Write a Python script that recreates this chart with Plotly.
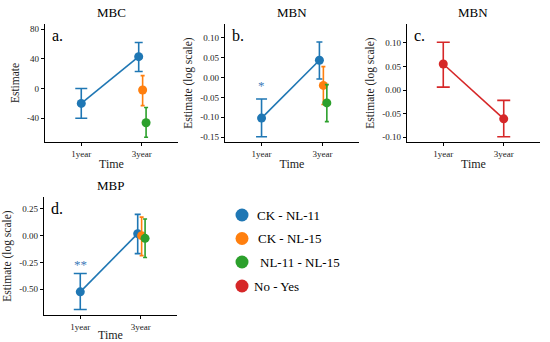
import plotly.graph_objects as go

# ---------------- data ----------------
time_labels = ["1year", "3year"]
contrast_names = ["CK - NL-11", "CK - NL-15", "NL-11 - NL-15", "No - Yes"]
contrast_colors = ["#1f77b4", "#ff7f0e", "#2ca02c", "#d62728"]

# MBC (panel a)
mbc_ck_nl11_est = [-20, 43]
mbc_ck_nl11_lo = [-40, 23]
mbc_ck_nl11_hi = [0, 62]
mbc_ck_nl15_est = [-2]
mbc_ck_nl15_lo = [-23]
mbc_ck_nl15_hi = [17.5]
mbc_nl11_nl15_est = [-46]
mbc_nl11_nl15_lo = [-65.5]
mbc_nl11_nl15_hi = [-25.5]

# MBN (panel b)
mbn_ck_nl11_est = [-0.102, 0.043]
mbn_ck_nl11_lo = [-0.149, -0.004]
mbn_ck_nl11_hi = [-0.054, 0.089]
mbn_ck_nl15_est = [-0.020]
mbn_ck_nl15_lo = [-0.068]
mbn_ck_nl15_hi = [0.027]
mbn_nl11_nl15_est = [-0.064]
mbn_nl11_nl15_lo = [-0.111]
mbn_nl11_nl15_hi = [-0.018]

# MBN (panel c) No - Yes
mbn_noyes_est = [0.055, -0.061]
mbn_noyes_lo = [0.006, -0.099]
mbn_noyes_hi = [0.101, -0.022]

# MBP (panel d)
mbp_ck_nl11_est = [-0.526, 0.019]
mbp_ck_nl11_lo = [-0.691, -0.168]
mbp_ck_nl11_hi = [-0.355, 0.199]
mbp_ck_nl15_est = [0.0]
mbp_ck_nl15_lo = [-0.187]
mbp_ck_nl15_hi = [0.174]
mbp_nl11_nl15_est = [-0.025]
mbp_nl11_nl15_lo = [-0.205]
mbp_nl11_nl15_hi = [0.156]

# significance marks
sig_b = {"time": "1year", "y": -0.021, "text": "*"}
sig_d = {"time": "1year", "y": -0.268, "text": "**"}

# ---------------- style ----------------
FONT = "Liberation Serif"
dodge = {"CK - NL-11": -0.05, "CK - NL-15": 0.015, "NL-11 - NL-15": 0.072, "No - Yes": 0.0}
W, H = 550, 342

fig = go.Figure()


def xpos(times, name):
    out = []
    for t in times:
        i = time_labels.index(t) + 1
        out.append(i + (dodge[name] if t == "3year" else 0.0))
    return out


def add_series(ax, name, times, est, lo, hi, caps):
    col = contrast_colors[contrast_names.index(name)]
    xs = xpos(times, name)
    xa = "x" + ("" if ax == 1 else str(ax))
    ya = "y" + ("" if ax == 1 else str(ax))
    for x, e, l, h, c in zip(xs, est, lo, hi, caps):
        fig.add_trace(go.Scatter(
            x=[x], y=[e], mode="markers", marker=dict(size=1, opacity=0),
            error_y=dict(type="data", symmetric=False, array=[h - e], arrayminus=[e - l],
                         color=col, thickness=1.6, width=c),
            xaxis=xa, yaxis=ya, showlegend=False, hoverinfo="skip"))
    fig.add_trace(go.Scatter(
        x=xs, y=est, mode="lines+markers", name=name,
        line=dict(color=col, width=1.6), marker=dict(color=col, size=9),
        xaxis=xa, yaxis=ya, showlegend=False))


add_series(1, "CK - NL-11", time_labels, mbc_ck_nl11_est, mbc_ck_nl11_lo, mbc_ck_nl11_hi, [6, 4])
add_series(1, "CK - NL-15", ["3year"], mbc_ck_nl15_est, mbc_ck_nl15_lo, mbc_ck_nl15_hi, [2])
add_series(1, "NL-11 - NL-15", ["3year"], mbc_nl11_nl15_est, mbc_nl11_nl15_lo, mbc_nl11_nl15_hi, [2])
add_series(2, "CK - NL-11", time_labels, mbn_ck_nl11_est, mbn_ck_nl11_lo, mbn_ck_nl11_hi, [5.5, 3])
add_series(2, "CK - NL-15", ["3year"], mbn_ck_nl15_est, mbn_ck_nl15_lo, mbn_ck_nl15_hi, [2])
add_series(2, "NL-11 - NL-15", ["3year"], mbn_nl11_nl15_est, mbn_nl11_nl15_lo, mbn_nl11_nl15_hi, [2])
add_series(3, "No - Yes", time_labels, mbn_noyes_est, mbn_noyes_lo, mbn_noyes_hi, [6.5, 6.5])
add_series(4, "CK - NL-11", time_labels, mbp_ck_nl11_est, mbp_ck_nl11_lo, mbp_ck_nl11_hi, [6.5, 3])
add_series(4, "CK - NL-15", ["3year"], mbp_ck_nl15_est, mbp_ck_nl15_lo, mbp_ck_nl15_hi, [2])
add_series(4, "NL-11 - NL-15", ["3year"], mbp_nl11_nl15_est, mbp_nl11_nl15_lo, mbp_nl11_nl15_hi, [2])

# ---------------- axes ----------------
panels = [
    ((45, 178), (24, 142), [-72, 87], [-40, 0, 40, 80], ["-40", "0", "40", "80"], "Estimate", "MBC", "a."),
    ((225, 359), (24, 142), [-0.162, 0.134], [-0.15, -0.10, -0.05, 0.0, 0.05, 0.10],
     ["-0.15", "-0.10", "-0.05", "0.00", "0.05", "0.10"], "Estimate (log scale)", "MBN", "b."),
    ((407, 540), (24, 142), [-0.110, 0.1396], [-0.10, -0.05, 0.0, 0.05, 0.10],
     ["-0.10", "-0.05", "0.00", "0.05", "0.10"], "Estimate (log scale)", "MBN", "c."),
    ((44, 177), (197, 315), [-0.743, 0.362], [-0.50, -0.25, 0.0, 0.25],
     ["-0.50", "-0.25", "0.00", "0.25"], "Estimate (log scale)", "MBP", "d."),
]

annotations = []
for i, (xd, yd, yr, tv, tt, ytitle, title, letter) in enumerate(panels, start=1):
    sfx = "" if i == 1 else str(i)
    xdom = [xd[0] / W, xd[1] / W]
    ydom = [1 - yd[1] / H, 1 - yd[0] / H]
    fig.layout["xaxis" + sfx] = dict(
        domain=xdom, range=[0.4, 2.6], anchor="y" + sfx,
        tickvals=[1, 2], ticktext=time_labels, showline=True, linecolor="black", linewidth=1.2,
        ticks="outside", ticklen=3, tickcolor="black", showgrid=False, zeroline=False,
        tickfont=dict(family=FONT, size=9, color="#222"),
        title=dict(text="Time", font=dict(family=FONT, size=12, color="#222"), standoff=1),
        fixedrange=True)
    fig.layout["yaxis" + sfx] = dict(
        domain=ydom, range=yr, anchor="x" + sfx,
        tickvals=tv, ticktext=tt, showline=True, linecolor="black", linewidth=1.2,
        ticks="outside", ticklen=3, tickcolor="black", showgrid=False, zeroline=False,
        tickfont=dict(family=FONT, size=9, color="#222"),
        title=dict(text=ytitle, font=dict(family=FONT, size=11.5, color="#222"), standoff=5),
        fixedrange=True)
    annotations.append(dict(
        x=(xdom[0] + xdom[1]) / 2, y=1 - (yd[0] - 12) / H, xref="paper", yref="paper",
        text=title, showarrow=False, xanchor="center", yanchor="middle",
        font=dict(family=FONT, size=13, color="black")))
    annotations.append(dict(
        x=(xd[0] + 5) / W, y=1 - (yd[0] + 11) / H, xref="paper", yref="paper",
        text=letter, showarrow=False, xanchor="left", yanchor="middle",
        font=dict(family=FONT, size=16, color="black")))

annotations.append(dict(x=time_labels.index(sig_b["time"]) + 1, y=sig_b["y"], xref="x2", yref="y2",
                        text=sig_b["text"], showarrow=False,
                        font=dict(family=FONT, size=13, color="#3d7ab8")))
annotations.append(dict(x=time_labels.index(sig_d["time"]) + 1, y=sig_d["y"], xref="x4", yref="y4",
                        text=sig_d["text"], showarrow=False,
                        font=dict(family=FONT, size=13, color="#3d7ab8")))

# manual legend
leg_y = [215, 238.5, 262, 286]
leg_text_x = [255, 255.5, 258, 251.5]
shapes = []
for name, col, yy, tx in zip(contrast_names, contrast_colors, leg_y, leg_text_x):
    shapes.append(dict(type="circle", xref="paper", yref="paper",
                       x0=(242 - 6.5) / W, x1=(242 + 6.5) / W,
                       y0=1 - (yy + 6.5) / H, y1=1 - (yy - 6.5) / H,
                       fillcolor=col, line=dict(width=0)))
    annotations.append(dict(x=tx / W, y=1 - yy / H, xref="paper", yref="paper",
                            text=name, showarrow=False, xanchor="left", yanchor="middle",
                            font=dict(family=FONT, size=13, color="black")))

fig.update_layout(
    width=W, height=H, margin=dict(l=0, r=0, t=0, b=0),
    paper_bgcolor="white", plot_bgcolor="white",
    showlegend=False, annotations=annotations, shapes=shapes,
    font=dict(family=FONT))

fig.write_html("out.html", config={"displayModeBar": False},
               post_script="document.body.style.margin='0';document.body.style.padding='0';"
                           "document.body.style.overflow='hidden';")
